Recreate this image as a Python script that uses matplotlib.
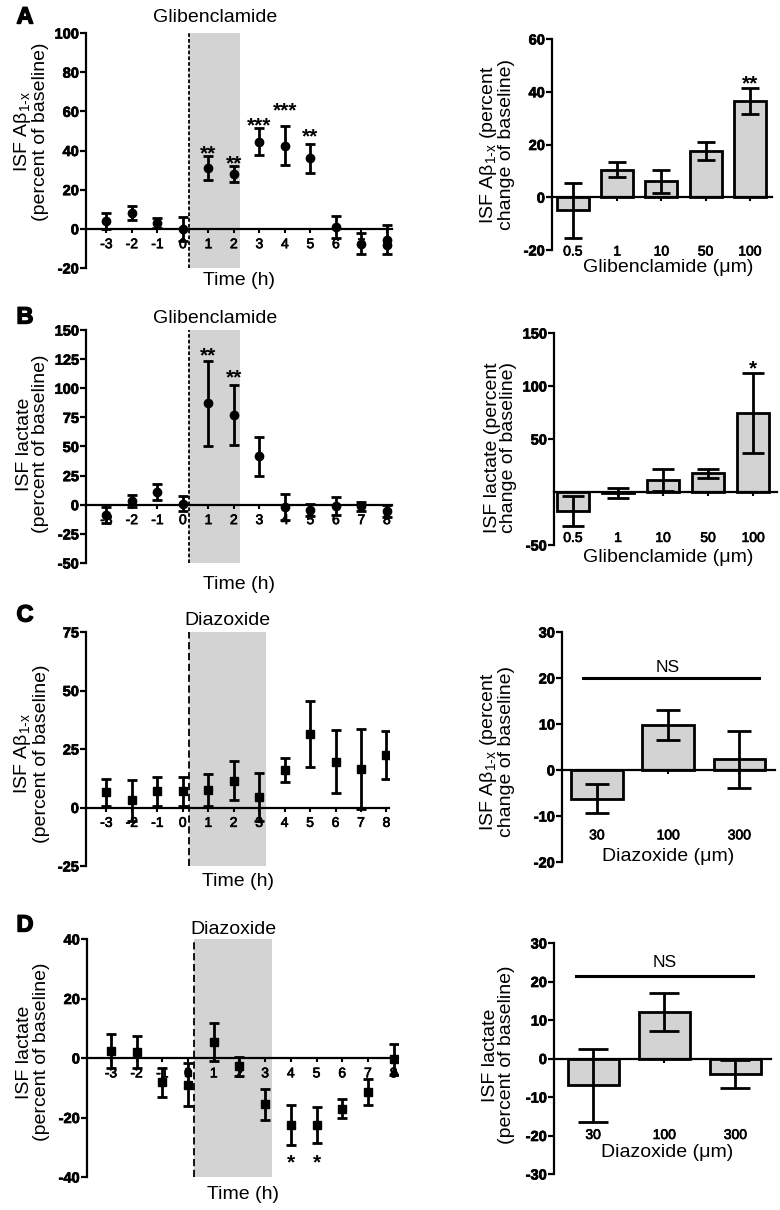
import matplotlib
matplotlib.use("Agg")
import matplotlib.pyplot as plt
import matplotlib.transforms as mtransforms
import matplotlib.patheffects as pe

plt.rcParams['font.family'] = ['Liberation Sans', 'DejaVu Sans']
plt.rcParams['mathtext.fontset'] = 'custom'
plt.rcParams['mathtext.rm'] = 'Liberation Sans'
plt.rcParams['mathtext.it'] = 'Liberation Sans:italic'
plt.rcParams['mathtext.bf'] = 'Liberation Sans:bold'
plt.rcParams['axes.unicode_minus'] = False

hours = [-3, -2, -1, 0, 1, 2, 3, 4, 5, 6, 7, 8]

# A - glibenclamide, ISF Abeta
a_mean = [4, 8, 3, 0, 31, 28, 44.5, 42.5, 36, 1, -7.5, -5.5]
a_err = [4, 3.5, 2.5, 6, 6, 4, 7, 10, 7.5, 5.5, 5.5, 7.5]
a_star_h = [1, 2, 3, 4, 5]
a_star_y = [41.5, 36.5, 56, 63.5, 50]
a_star_txt = ['**', '**', '***', '***', '**']
a_extra_h = [8]
a_extra_y = [-8.5]
glib_doses = ['0.5', '1', '10', '50', '100']
a_bar = [-5, 10.5, 6, 17.5, 36.5]
a_bar_err = [10.5, 3, 4.5, 3.5, 5]

# B - glibenclamide, ISF lactate
b_mean = [-9, 3, 11, 1, 87, 77, 41.5, -2, -4.5, -1, -1.5, -5.5]
b_err = [7, 5, 7, 6.5, 36.5, 26, 16.5, 11.5, 5, 7.5, 4, 5]
b_star_h = [1, 2]
b_star_y = [133, 114]
b_star_txt = ['**', '**']
b_bar = [-18, -1, 11.5, 17.5, 74.5]
b_bar_err = [14.5, 5, 10.5, 4, 38]

# C - diazoxide, ISF Abeta
c_mean = [6.5, 3, 7, 7, 7.5, 11.5, 4.5, 16, 31.5, 19.5, 16.5, 22.5]
c_err = [5.7, 8.8, 6.2, 6.2, 7, 8.2, 10.3, 5, 14, 13.5, 17, 10.4]
diaz_doses = ['30', '100', '300']
c_bar = [-6.2, 9.8, 2.3]
c_bar_err = [3.2, 3.2, 6.2]

# D - diazoxide, ISF lactate
d_mean = [2.5, 2, -8.2, -9, 5.5, -2.8, -15.5, -22.5, -22.5, -17, -11.5, -0.5]
d_err = [5.7, 5.5, 5, 7.2, 6.4, 3.2, 5.2, 6.6, 6, 3.1, 4.4, 5.3]
d_star_h = [4, 5]
d_star_y = [-33, -33]
d_star_txt = ['*', '*']
d_extra_h = [0, 8]
d_extra_y = [-5, -4.5]
d_bar = [-7, 12, -4]
d_bar_err = [9.5, 4.9, 3.7]

GREY = '#d3d3d3'
W, H = 780, 1210
LAB = 14
HEAVY = [pe.withStroke(linewidth=0.5, foreground='k')]

fig = plt.figure(figsize=(W / 100, H / 100), dpi=100)


def rect(x0, y0, x1, y1):
    return [x0 / W, 1 - y1 / H, (x1 - x0) / W, (y1 - y0) / H]


def style(ax, yticks, ylim, ylabel, lab_x, lab_y):
    for s in ['top', 'right']:
        ax.spines[s].set_visible(False)
    ax.spines['left'].set_linewidth(1.6)
    ax.spines['bottom'].set_linewidth(1.6)
    ax.spines['bottom'].set_position(('data', 0))
    ax.set_ylim(ylim)
    ax.set_yticks(list(yticks))
    ax.set_yticklabels([str(v) for v in yticks], fontweight='bold', fontsize=10.5)
    ax.tick_params(axis='y', length=4, width=1.6, pad=1)
    for t in ax.get_xticklabels() + ax.get_yticklabels():
        t.set_path_effects(HEAVY)
    ax.set_ylabel(ylabel, fontsize=LAB, linespacing=0.95)
    ax.yaxis.set_label_coords(lab_x, lab_y)


def stars(ax, xs, ys, txts):
    for x, y, t in zip(xs, ys, txts):
        ax.annotate(t, xy=(x, y), xytext=(0, -8.5), textcoords='offset points',
                    ha='center', va='baseline', fontsize=15, fontweight='bold')


def time_panel(box, mean, err, marker, xlim, ylim, yticks, span, dash, drug,
               drug_y, ylabel, lab_y, xlab_y, ms):
    ax = fig.add_axes(rect(*box))
    ax.axvspan(span[0], span[1], color=GREY, lw=0, zorder=0)
    ax.axvline(span[0], color='k', lw=1.3, ls=dash, zorder=1)
    ax.errorbar(hours, mean, yerr=err, fmt=marker, color='k', ms=ms,
                elinewidth=2, capsize=3.8, capthick=2, zorder=3)
    ax.set_xlim(xlim)
    ax.set_xticks(hours)
    ax.set_xticklabels([str(h) for h in hours], fontweight='bold', fontsize=10)
    ax.tick_params(axis='x', length=3, width=1.5, pad=3)
    style(ax, yticks, ylim, ylabel, -0.12, lab_y)
    ax.set_xlabel('Time (h)', fontsize=LAB)
    ax.xaxis.set_label_coords(0.5, xlab_y)
    tr = mtransforms.blended_transform_factory(ax.transData, ax.transAxes)
    ax.text((span[0] + span[1]) / 2, drug_y, drug, transform=tr, ha='center',
            va='center', fontsize=LAB)
    return ax


def bar_panel(box, labels, vals, errs, xlim, ylim, yticks, ylabel, lab_x, lab_y,
              xlabel, xlab_x, xlab_y, pad, cap):
    ax = fig.add_axes(rect(*box))
    pos = list(range(len(labels)))
    ax.bar(pos, vals, width=0.72, color=GREY, edgecolor='k', lw=2, zorder=2)
    ax.errorbar(pos, vals, yerr=errs, fmt='none', ecolor='k', elinewidth=2,
                capsize=cap, capthick=2, zorder=3)
    ax.set_xlim(xlim)
    ax.set_xticks(pos)
    ax.set_xticklabels(labels, fontweight='bold', fontsize=10.5)
    ax.tick_params(axis='x', length=3, width=1.5, pad=pad)
    style(ax, yticks, ylim, ylabel, lab_x, lab_y)
    ax.set_xlabel(xlabel, fontsize=LAB)
    ax.xaxis.set_label_coords(xlab_x, xlab_y)
    return ax


abeta = 'ISF A$\\mathregular{\\beta_{1\u2010x}}$'

# ---- A
axA = time_panel((86, 33, 392, 268), a_mean, a_err, 'o', (-3.8, 8.2), (-20, 100),
                 range(-20, 101, 20), (0.25, 2.25), (0, (2, 1.2)), 'Glibenclamide',
                 1.064, abeta + '\n(percent of baseline)', 0.58, -0.015, 6)
axA.plot(a_extra_h, a_extra_y, 'o', color='k', ms=6, zorder=3)
stars(axA, a_star_h, a_star_y, a_star_txt)

axA2 = bar_panel((552, 39, 772, 250), glib_doses, a_bar, a_bar_err, (-0.47, 4.5),
                 (-20, 60), range(-20, 61, 20), abeta + ' (percent\nchange of baseline)',
                 -0.168, 0.5, 'Glibenclamide (\u03bcm)', 0.53, -0.045, 31, 6.5)
stars(axA2, [4], [45.5], ['**'])

# ---- B
axB = time_panel((86, 330, 392, 563), b_mean, b_err, 'o', (-3.8, 8.2), (-50, 150),
                 range(-50, 151, 25), (0.25, 2.25), (0, (2, 1.2)), 'Glibenclamide',
                 1.05, 'ISF lactate\n(percent of baseline)', 0.51, -0.054, 6)
stars(axB, b_star_h, b_star_y, b_star_txt)

axB2 = bar_panel((554, 333, 777, 545), glib_doses, b_bar, b_bar_err, (-0.42, 4.53),
                 (-50, 150), [-50, 50, 100, 150], 'ISF lactate (percent\nchange of baseline)',
                 -0.166, 0.46, 'Glibenclamide (\u03bcm)', 0.51, -0.017, 25, 7.8)
stars(axB2, [4], [122], ['*'])

# ---- C
axC = time_panel((86, 632, 389, 866), c_mean, c_err, 's', (-3.8, 8.1), (-25, 75),
                 range(-25, 76, 25), (0.25, 3.25), (0, (4, 2)), 'Diazoxide',
                 1.05, abeta + '\n(percent of baseline)', 0.48, -0.032, 6)

axC2 = bar_panel((562, 632, 775, 862), diaz_doses, c_bar, c_bar_err, (-0.49, 2.5),
                 (-20, 30), range(-20, 31, 10), abeta + ' (percent\nchange of baseline)',
                 -0.22, 0.48, 'Diazoxide (\u03bcm)', 0.5, 0.059, 39, 8.7)
axC2.plot([-0.2, 2.27], [20, 20], color='k', lw=2.2)
axC2.text(1, 22.3, 'NS', ha='center', va='center', fontsize=12.5)

# ---- D
axD = time_panel((87, 939, 398, 1177), d_mean, d_err, 's', (-3.93, 8.17), (-40, 40),
                 range(-40, 41, 20), (0.25, 3.25), (0, (4, 2)), 'Diazoxide',
                 1.04, 'ISF lactate\n(percent of baseline)', 0.525, -0.036, 6)
axD.plot(d_extra_h[:1], d_extra_y[:1], 's', color='k', ms=5, zorder=3)
axD.plot(d_extra_h[1:], d_extra_y[1:], '^', color='k', ms=6, zorder=3)
stars(axD, d_star_h, d_star_y, d_star_txt)

axD2 = bar_panel((554, 943, 771, 1174), diaz_doses, d_bar, d_bar_err, (-0.55, 2.5),
                 (-30, 30), range(-30, 31, 10), 'ISF lactate\n(percent of baseline)',
                 -0.18, 0.515, 'Diazoxide (\u03bcm)', 0.52, 0.132, 47, 11)
axD2.plot([-0.24, 2.24], [21.4, 21.4], color='k', lw=2.2)
axD2.text(1, 25, 'NS', ha='center', va='center', fontsize=12.5)

for lab, (px, py) in zip('ABCD', [(25, 17), (25, 317), (25, 615), (25, 925)]):
    fig.text(px / W, 1 - py / H, lab, ha='center', va='center', fontsize=17,
             fontweight='bold', path_effects=[pe.withStroke(linewidth=1, foreground='k')])

fig.savefig('out.png', dpi=100)
